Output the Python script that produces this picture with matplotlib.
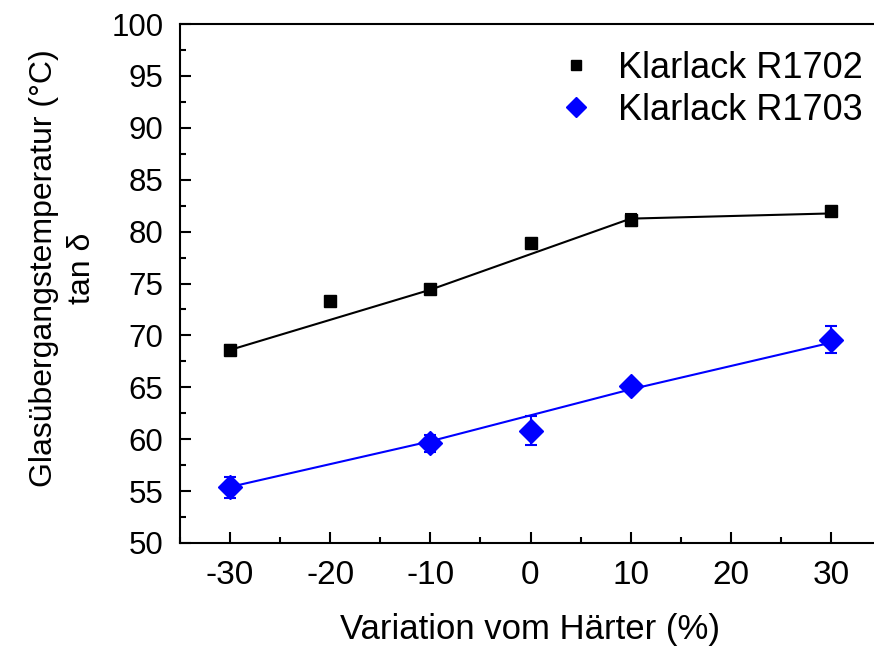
import matplotlib
matplotlib.use("Agg")
import matplotlib.pyplot as plt
from matplotlib.ticker import MultipleLocator

plt.rcParams['font.family'] = ['Liberation Sans', 'DejaVu Sans']
plt.rcParams['axes.unicode_minus'] = False

# Measured glass transition temperatures (tan delta peak)
x_r1702 = [-30, -20, -10, 0, 10, 30]
tg_r1702 = [68.6, 73.3, 74.5, 78.9, 81.1, 82.0]
err_r1702 = [0.5, 0.2, 0.3, 0.2, 0.6, 0.4]

x_r1703 = [-30, -10, 0, 10, 30]
tg_r1703 = [55.35, 59.6, 60.8, 65.1, 69.6]
err_r1703 = [1.0, 0.8, 1.4, 0.3, 1.3]

# Trend lines
trend_x_r1702 = [-30, -10, 10, 30]
trend_y_r1702 = [68.6, 74.4, 81.25, 81.75]
trend_x_r1703 = [-30, -10, 10, 30]
trend_y_r1703 = [55.4, 59.8, 64.8, 69.3]

x_ticks = [-30, -20, -10, 0, 10, 20, 30]
y_ticks = [50, 55, 60, 65, 70, 75, 80, 85, 90, 95, 100]

fig = plt.figure(figsize=(8.74, 6.46), dpi=100)
W, H = 874, 646
ax = fig.add_axes([180 / W, 1 - 543 / H, (881 - 180) / W, (543 - 24) / H])

ax.plot(trend_x_r1702, trend_y_r1702, color='black', lw=1.5, zorder=2)
ax.plot(trend_x_r1703, trend_y_r1703, color='#0000ff', lw=1.5, zorder=2)

ax.errorbar(x_r1702, tg_r1702, yerr=err_r1702, fmt='s', color='black',
            ms=8.5, capsize=4, elinewidth=1.5, capthick=1.5, zorder=3,
            label='Klarlack R1702')
ax.errorbar(x_r1703, tg_r1703, yerr=err_r1703, fmt='D', color='#0000ff',
            ms=12, capsize=4, elinewidth=1.5, capthick=1.5, zorder=3,
            label='Klarlack R1703')

ax.set_xlim(-35, 35)
ax.set_ylim(50, 100)
ax.set_xticks(x_ticks)
ax.set_yticks(y_ticks)
ax.xaxis.set_minor_locator(MultipleLocator(5))
ax.yaxis.set_minor_locator(MultipleLocator(2.5))

ax.spines['right'].set_visible(False)
for s in ('left', 'bottom', 'top'):
    ax.spines[s].set_linewidth(1.5)

ax.tick_params(which='both', direction='in', width=1.5, top=False, right=False)
ax.tick_params(which='major', length=8)
ax.tick_params(which='minor', length=4)
ax.tick_params(axis='x', which='major', labelsize=24, pad=12)
ax.tick_params(axis='y', which='major', labelsize=22.5, pad=12)

ax.set_xlabel('Variation vom Härter (%)', fontsize=25, labelpad=16)
ax.set_ylabel('Glasübergangstemperatur (°C)\ntan δ', fontsize=23,
              linespacing=1.35)
ax.yaxis.set_label_coords(-0.118, 0.53)

handles, labels = ax.get_legend_handles_labels()
handles = [h[0] for h in handles]
leg = ax.legend(handles, labels, loc='upper right', bbox_to_anchor=(1.005, 0.99),
                frameon=False, fontsize=26, handletextpad=0.55, handlelength=1.2,
                labelspacing=0.2, borderaxespad=0.2, markerscale=0.85)

fig.savefig('out.png', dpi=100)
